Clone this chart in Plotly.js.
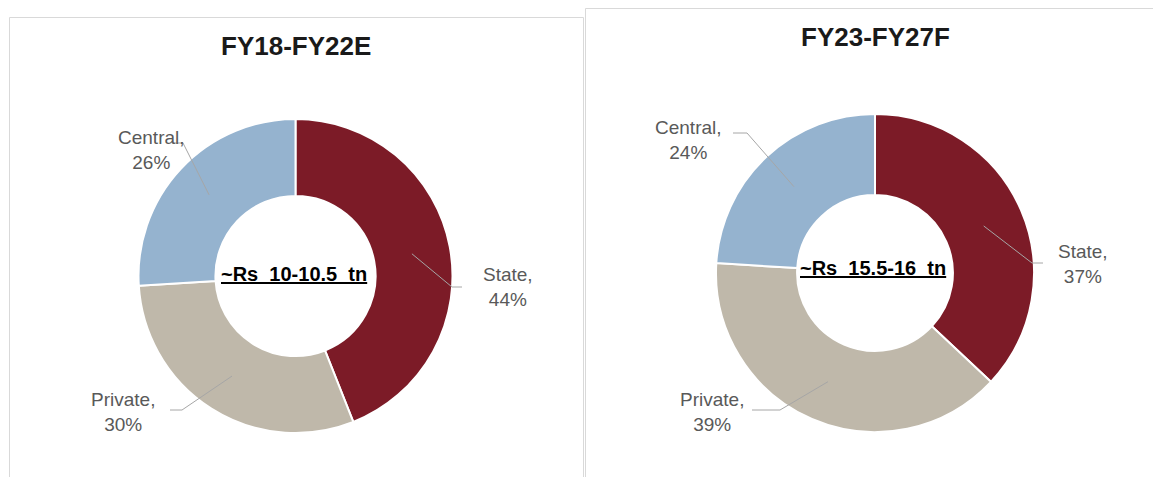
<!DOCTYPE html>
<html><head><meta charset="utf-8">
<script src="https://cdn.plot.ly/plotly-3.0.1.min.js"></script>
<style>html,body{margin:0;padding:0;background:#fff}#chart{width:1153px;height:477px}</style>
</head><body><div id="chart"></div>
<script>
// ---- data ----
const categories = ['State', 'Private', 'Central'];
const valuesFY18_22 = [44, 30, 26];
const valuesFY23_27 = [37, 39, 24];
const chartTitles = ['FY18-FY22E', 'FY23-FY27F'];
const centerLabels = ['~Rs 10-10.5 tn', '~Rs 15.5-16 tn'];
const sliceColors = ['#7C1B27', '#BFB8AA', '#95B3CF'];

// ---- layout geometry (pixels) ----
const W = 1153, H = 477;
const px = x => x / W;
const py = y => 1 - y / H;
const charts = [
  { values: valuesFY18_22, cx: 295.5, cy: 276, r: 157, hole: 0.51,
    title: { x: 296, y: 46 }, center: { x: 294, y: 274 },
    labels: [ // elbow points and label centers for State, Private, Central
      { bend: [452, 287], end: [462, 287], pos: [508, 287] },
      { bend: [182, 410], end: [170, 410], pos: [123, 412] },
      { bend: [183, 143], end: [172, 143], pos: [151, 150] }
    ] },
  { values: valuesFY23_27, cx: 875, cy: 273, r: 159, hole: 0.49,
    title: { x: 875.5, y: 37 }, center: { x: 873, y: 268 },
    labels: [
      { bend: [1032, 263], end: [1043, 263], pos: [1083, 264] },
      { bend: [780, 410], end: [752, 410], pos: [712, 412] },
      { bend: [747, 133], end: [733, 133], pos: [688, 140] }
    ] }
];

const font = '"Liberation Sans", Arial, sans-serif';
const traces = [];
const annotations = [];
const shapes = [
  { type: 'rect', xref: 'paper', yref: 'paper', x0: px(9.5), x1: px(583.5), y0: py(17.5), y1: py(490),
    line: { color: '#D9D9D9', width: 1 } },
  { type: 'rect', xref: 'paper', yref: 'paper', x0: px(585.5), x1: px(1170), y0: py(8.5), y1: py(490),
    line: { color: '#D9D9D9', width: 1 } }
];

charts.forEach((c, ci) => {
  traces.push({
    type: 'pie', labels: categories, values: c.values,
    hole: c.hole, sort: false, direction: 'clockwise', rotation: 0,
    textinfo: 'none', showlegend: false, hoverinfo: 'label+percent',
    marker: { colors: sliceColors, line: { color: '#FFFFFF', width: 2 } },
    domain: { x: [px(c.cx - c.r), px(c.cx + c.r)], y: [py(c.cy + c.r), py(c.cy - c.r)] }
  });
  // title
  annotations.push({ xref: 'paper', yref: 'paper', x: px(c.title.x), y: py(c.title.y),
    xanchor: 'center', yanchor: 'middle', showarrow: false,
    text: '<b>' + chartTitles[ci] + '</b>', font: { family: font, size: 26, color: '#1A1A1A' } });
  // center label
  annotations.push({ xref: 'paper', yref: 'paper', x: px(c.center.x), y: py(c.center.y),
    xanchor: 'center', yanchor: 'middle', showarrow: false,
    text: '<b><u>' + centerLabels[ci].split(' ').join('&nbsp; ') + '</u></b>',
    font: { family: font, size: 20, color: '#000000' } });
  // slice labels with leader lines
  const total = c.values.reduce((a, b) => a + b, 0);
  let cum = 0;
  c.values.forEach((v, i) => {
    const mid = (cum + v / 2) / total * 2 * Math.PI;
    cum += v;
    const rm = c.r * (1 + c.hole) / 2;
    const tx = c.cx + rm * Math.sin(mid), ty = c.cy - rm * Math.cos(mid);
    const L = c.labels[i];
    shapes.push({ type: 'path', xref: 'paper', yref: 'paper',
      path: `M${px(tx)},${py(ty)} L${px(L.bend[0])},${py(L.bend[1])} L${px(L.end[0])},${py(L.end[1])}`,
      line: { color: '#A6A6A6', width: 1 } });
    annotations.push({ xref: 'paper', yref: 'paper', x: px(L.pos[0]), y: py(L.pos[1]),
      xanchor: 'center', yanchor: 'middle', showarrow: false, align: 'center',
      text: categories[i] + ',<br>' + Math.round(v / total * 100) + '%',
      font: { family: font, size: 19, color: '#595959' } });
  });
});

Plotly.newPlot('chart', traces, {
  width: W, height: H, margin: { l: 0, r: 0, t: 0, b: 0 },
  paper_bgcolor: '#FFFFFF', plot_bgcolor: '#FFFFFF',
  annotations: annotations, shapes: shapes
}, { displayModeBar: false, staticPlot: true });
</script>
</body></html>
